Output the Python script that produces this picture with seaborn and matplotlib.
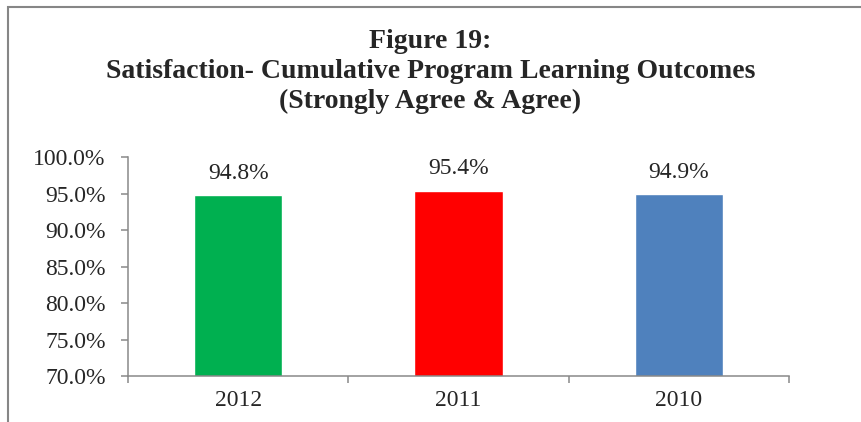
import pandas as pd
import matplotlib.pyplot as plt
import matplotlib.patches as mpatches
import seaborn as sns

# --- dados ---
years = ['2012', '2011', '2010']
values = [94.8, 95.4, 94.9]
colors = ['#00B050', '#FF0000', '#4F81BD']
title_lines = ['Figure 19:',
               'Satisfaction- Cumulative Program Learning Outcomes',
               '(Strongly Agree & Agree)']
y_ticks = [70, 75, 80, 85, 90, 95, 100]

df = pd.DataFrame({'Year': years, 'Value': values})

sns.set_style('white')
plt.rcParams['font.family'] = ['Liberation Serif', 'DejaVu Serif']

fig = plt.figure(figsize=(8.61, 4.22), dpi=100)
ax = fig.add_axes([128 / 861, 1 - 376 / 422, (789 - 128) / 861, (376 - 157) / 422])

sns.barplot(data=df, x='Year', y='Value', hue='Year', palette=colors,
            width=0.4, legend=False, ax=ax, saturation=1)

ax.set_ylim(70, 100)
ax.set_xlim(-0.5, 2.5)
ax.set_yticks(y_ticks)
ax.set_yticklabels([f'{t:.1f}%' for t in y_ticks])
ax.set_xlabel('')
ax.set_ylabel('')

# rótulos das barras
for i, v in enumerate(values):
    ax.annotate(f'{v:.1f}%', (i, v), xytext=(0, 8), textcoords='offset points',
                ha='center', va='bottom', fontsize=17)

# eixos estilo Excel
for s in ['top', 'right']:
    ax.spines[s].set_visible(False)
for s in ['left', 'bottom']:
    ax.spines[s].set_color('#898989')
    ax.spines[s].set_linewidth(1.1)

ax.tick_params(axis='y', length=5, width=1.1, color='#898989', pad=11, labelsize=17, left=True)
ax.tick_params(axis='x', length=0, pad=10, labelsize=17)
# marcas entre categorias no eixo x
ax.set_xticks([-0.5, 0.5, 1.5, 2.5], minor=True)
ax.tick_params(axis='x', which='minor', length=5, width=1.1, color='#898989', bottom=True)

# título
for k, line in enumerate(title_lines):
    fig.text(0.5, 1 - (41 + 30 * k) / 422, line, ha='center', va='center',
             fontsize=20, fontweight='bold')

# moldura do gráfico (parcialmente cortada)
frame = mpatches.Rectangle((8 / 861, -0.2), 1.2, 1.2 - 7 / 422, transform=fig.transFigure,
                           fill=False, edgecolor='#868686', linewidth=1.5)
fig.patches.append(frame)

plt.savefig('out.png', dpi=100)
